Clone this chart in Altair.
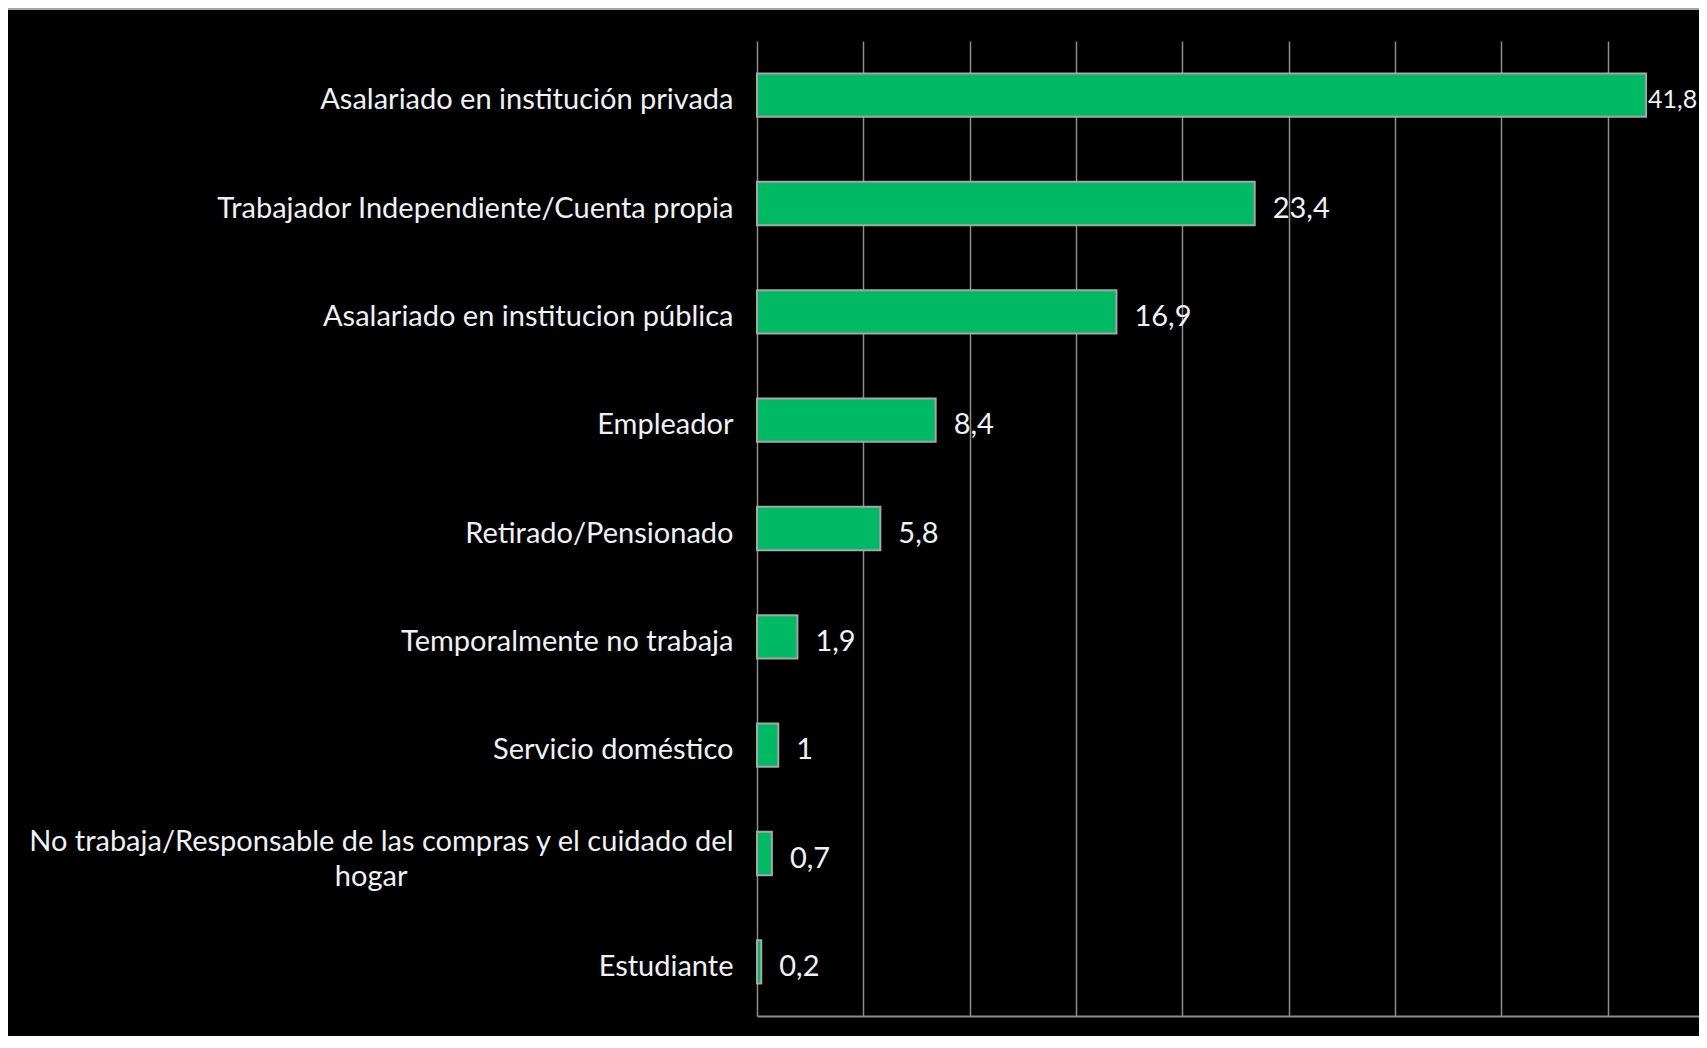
import altair as alt
import pandas as pd

categories = [
    "Asalariado en institución privada",
    "Trabajador Independiente/Cuenta propia",
    "Asalariado en institucion pública",
    "Empleador",
    "Retirado/Pensionado",
    "Temporalmente no trabaja",
    "Servicio doméstico",
    "No trabaja/Responsable de las compras y el cuidado del hogar",
    "Estudiante",
]
values = [41.8, 23.4, 16.9, 8.4, 5.8, 1.9, 1.0, 0.7, 0.2]
value_labels = ["41,8", "23,4", "16,9", "8,4", "5,8", "1,9", "1", "0,7", "0,2"]
x_ticks = [0, 5, 10, 15, 20, 25, 30, 35, 40]

df = pd.DataFrame({"cat": categories, "v": values, "lbl": value_labels})

FONT = "Lato"
TEXT = "#EEF2F4"
GRID = "#8C8C8C"

long_lbl = categories[7]
pad = "\u00a0" * 44 + "\u200b"
label_expr = (
    f"datum.label == '{long_lbl}' ? "
    f"['No trabaja/Responsable de las compras y el cuidado del', 'hogar{pad}'] "
    ": datum.label"
)

x_enc = alt.X(
    "v:Q",
    scale=alt.Scale(domain=[0, 44.29], nice=False, zero=True),
    axis=alt.Axis(
        values=x_ticks, labels=False, ticks=False, title=None,
        grid=True, gridColor=GRID, gridWidth=1.5,
        domain=True, domainColor=GRID, domainWidth=2,
    ),
)
y_enc = alt.Y(
    "cat:N",
    sort=categories,
    scale=alt.Scale(paddingInner=0.6, paddingOuter=0.3),
    axis=alt.Axis(
        title=None, ticks=False, domain=False, grid=False,
        labelFont=FONT, labelFontSize=29, labelColor=TEXT,
        labelPadding=24, labelLimit=1000, labelLineHeight=35,
        labelOffset={"condition": {"test": f"datum.value == '{long_lbl}'", "value": -12}, "value": 5},
        labelExpr=label_expr,
    ),
)

bars = alt.Chart(df).mark_bar(
    color="#00B964", stroke="#A6A6A6", strokeWidth=2
).encode(x=x_enc, y=y_enc)

text_small = alt.Chart(df).transform_filter("datum.v < 40").mark_text(
    align="left", baseline="middle", dx=18, dy=5, font=FONT, fontSize=29, color=TEXT
).encode(x="v:Q", y=alt.Y("cat:N", sort=categories), text="lbl:N")

text_big = alt.Chart(df).transform_filter("datum.v >= 40").mark_text(
    align="left", baseline="middle", dx=2, dy=5, font=FONT, fontSize=25, color=TEXT
).encode(x="v:Q", y=alt.Y("cat:N", sort=categories), text="lbl:N")

top_line = alt.Chart(df).mark_rule(color="#A6A6A6", strokeWidth=2).encode(
    x=alt.value(-749), x2=alt.value(942), y=alt.value(-32)
)

chart = alt.layer(bars, text_small, text_big, top_line).properties(
    width=942,
    height=975,
    background="#000000",
    autosize=alt.AutoSizeParams(type="none"),
    padding={"left": 749, "top": 33, "right": 0, "bottom": 20},
).configure_view(stroke=None)

chart.save("out.html", embed_options={"renderer": "svg", "actions": False})
